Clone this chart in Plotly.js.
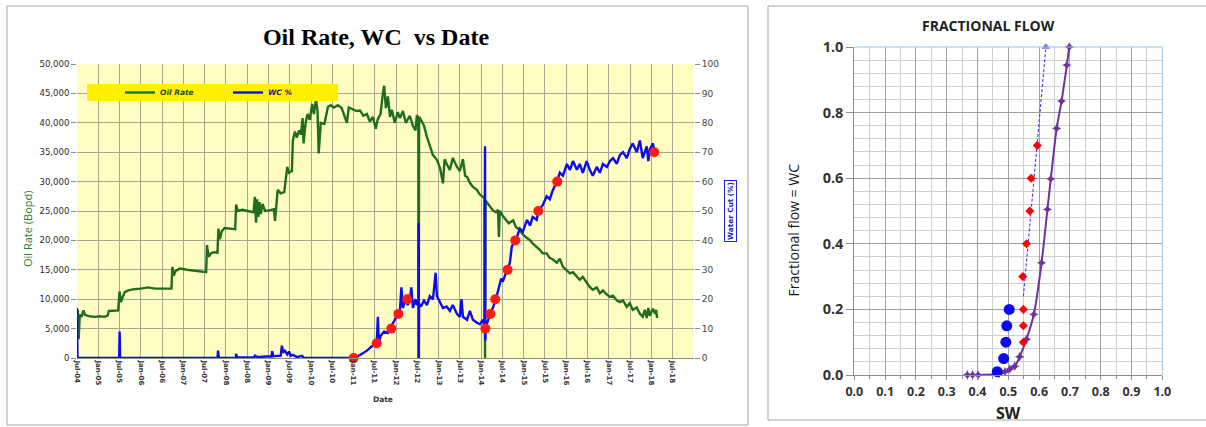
<!DOCTYPE html>
<html><head><meta charset="utf-8">
<script src="https://cdn.plot.ly/plotly-3.0.1.min.js"></script>
<style>html,body{margin:0;padding:0;background:#fff;}#chart{width:1206px;height:427px;}</style>
</head><body><div id="chart"></div>
<script>
// ---------- Left chart: Oil Rate, WC vs Date ----------
const oilDates = ['2004-07-01','2004-07-08','2004-07-15','2004-07-25','2004-08-10','2004-08-25','2004-09-10','2004-10-15','2004-12-01','2005-01-15','2005-02-20','2005-03-20','2005-04-01','2005-06-20','2005-07-01','2005-07-12','2005-07-25','2005-08-15','2005-09-15','2005-11-01','2006-01-01','2006-03-01','2006-05-01','2006-07-01','2006-09-20','2006-09-28','2006-10-10','2006-10-25','2006-12-01','2007-02-01','2007-04-01','2007-06-01','2007-07-15','2007-07-22','2007-08-05','2007-08-25','2007-09-20','2007-10-20','2007-10-28','2007-11-10','2007-11-25','2007-12-20','2008-01-20','2008-03-20','2008-03-28','2008-04-10','2008-05-20','2008-07-01','2008-08-25','2008-09-05','2008-09-15','2008-09-25','2008-10-05','2008-10-15','2008-10-25','2008-11-10','2008-12-01','2009-01-05','2009-02-15','2009-02-25','2009-03-20','2009-04-15','2009-05-15','2009-06-10','2009-06-25','2009-07-20','2009-07-28','2009-08-15','2009-09-01','2009-09-20','2009-10-05','2009-10-20','2009-10-28','2009-11-15','2009-12-01','2009-12-20','2010-01-10','2010-01-25','2010-02-12','2010-02-25','2010-03-07','2010-03-25','2010-04-25','2010-05-25','2010-06-18','2010-07-15','2010-08-18','2010-09-20','2010-11-04','2010-11-20','2010-12-20','2011-01-25','2011-02-25','2011-03-25','2011-04-25','2011-05-20','2011-06-15','2011-07-10','2011-07-25','2011-08-20','2011-09-09','2011-09-20','2011-10-05','2011-10-22','2011-11-09','2011-11-25','2011-12-20','2012-01-15','2012-02-03','2012-02-28','2012-03-24','2012-04-27','2012-05-24','2012-06-15','2012-06-27','2012-07-10','2012-07-13','2012-07-16','2012-08-01','2012-08-27','2012-09-21','2012-10-16','2012-11-12','2012-12-16','2013-01-12','2013-02-06','2013-02-20','2013-03-10','2013-04-06','2013-05-01','2013-06-06','2013-07-01','2013-07-27','2013-08-15','2013-09-01','2013-09-25','2013-10-21','2013-11-24','2013-12-19','2014-01-15','2014-01-28','2014-02-02','2014-02-06','2014-03-15','2014-04-10','2014-05-06','2014-05-25','2014-06-01','2014-06-09','2014-07-04','2014-08-01','2014-08-25','2014-10-01','2014-10-25','2014-11-28','2014-12-24','2015-01-28','2015-02-24','2015-03-18','2015-04-22','2015-05-18','2015-06-12','2015-07-16','2015-08-12','2015-09-06','2015-10-12','2015-11-06','2015-12-03','2016-01-06','2016-02-01','2016-02-27','2016-04-01','2016-04-25','2016-05-21','2016-06-24','2016-07-20','2016-08-15','2016-09-18','2016-10-15','2016-11-10','2016-12-14','2017-01-10','2017-02-05','2017-03-09','2017-04-04','2017-05-01','2017-06-03','2017-06-28','2017-07-24','2017-08-28','2017-09-23','2017-10-18','2017-11-05','2017-11-21','2017-12-05','2017-12-18','2018-01-13','2018-02-01','2018-02-10','2018-02-18'];
const oilRate = [3500,8200,3200,7400,7000,8100,7300,7100,7000,7100,7000,7200,8000,8100,11300,9500,10200,11200,11500,11700,11800,12000,11800,11800,11800,15500,14000,14800,15200,15000,14900,14800,14600,19200,17200,17800,18000,17900,22000,20200,21500,22100,22000,21900,26100,25000,25200,25000,24800,27400,23000,27000,24000,26500,24500,26200,25000,25100,25300,23300,28600,28000,28200,32500,31500,31800,37000,38500,37500,38700,38000,40800,36500,40000,41500,40500,43200,41500,44000,42000,34800,40000,39800,42700,43000,42600,43000,42500,40000,42600,42300,42000,42100,41200,41500,40200,41000,39000,40500,41500,45000,46300,42500,44500,41000,42200,40000,41800,40800,42000,40000,41200,39500,38700,41300,40800,0,41000,40500,39500,37600,36000,34500,33700,32300,29700,33800,33000,32000,34000,32500,31800,33800,31000,30800,29800,29100,28600,27800,27400,27200,0,26800,25800,25100,24800,25200,20600,25000,24200,23600,22900,23400,22300,21700,21000,20400,20000,19500,18900,18400,17800,17800,17000,16800,16200,16900,15500,14900,14400,14600,13800,13300,13800,12700,12100,11600,12000,11000,11500,10800,10400,10600,9800,9500,9800,8700,9300,8200,8600,7500,7000,8200,6800,8500,7200,8400,7500,8200,6800];

const wcDates = ['2004-07-01','2004-07-05','2005-06-28','2005-07-02','2005-07-06','2007-10-20','2007-10-25','2007-11-01','2008-03-25','2008-03-28','2008-04-05','2008-09-01','2008-09-05','2008-10-01','2008-12-01','2009-01-25','2009-02-01','2009-02-10','2009-04-15','2009-04-25','2009-05-05','2009-05-20','2009-06-10','2009-06-25','2009-07-10','2009-07-28','2009-09-01','2009-10-15','2009-11-01','2011-01-01','2011-02-25','2011-04-25','2011-06-06','2011-07-18','2011-07-28','2011-08-05','2011-08-20','2011-09-20','2011-10-22','2011-11-09','2011-11-25','2011-12-20','2012-01-15','2012-02-03','2012-02-15','2012-02-28','2012-03-24','2012-04-10','2012-04-27','2012-05-10','2012-05-24','2012-06-15','2012-06-27','2012-07-10','2012-07-12','2012-07-14','2012-07-16','2012-08-01','2012-08-27','2012-09-21','2012-10-16','2012-11-12','2012-12-05','2012-12-16','2013-01-12','2013-02-06','2013-03-10','2013-04-06','2013-05-01','2013-06-06','2013-07-01','2013-07-15','2013-07-27','2013-09-01','2013-09-25','2013-10-21','2013-11-24','2013-12-19','2014-01-15','2014-01-28','2014-02-02','2014-02-04','2014-02-08','2014-03-01','2014-03-20','2014-04-10','2014-05-06','2014-06-01','2014-06-20','2014-07-04','2014-08-01','2014-08-20','2014-09-05','2014-09-20','2014-10-20','2014-11-10','2014-11-28','2014-12-24','2015-01-28','2015-02-24','2015-03-18','2015-04-22','2015-05-05','2015-06-12','2015-07-16','2015-08-12','2015-09-06','2015-10-12','2015-11-06','2015-12-03','2016-01-06','2016-02-01','2016-02-27','2016-04-01','2016-04-25','2016-05-21','2016-06-24','2016-07-20','2016-08-15','2016-09-18','2016-10-15','2016-11-10','2016-12-14','2017-01-10','2017-02-05','2017-03-09','2017-04-04','2017-05-01','2017-06-03','2017-06-28','2017-07-24','2017-08-28','2017-09-23','2017-10-18','2017-11-21','2017-12-05','2017-12-18','2018-01-13','2018-01-25','2018-02-18'];
const wcPct = [17,0,0,9,0,0,2.5,0,0,1.4,0.2,0.2,0.8,0.3,0.5,0.5,2.3,0.6,0.8,4.2,1.8,2.5,1.2,2.2,0.8,1.1,0.3,0.7,0,0,1,2.5,4,4.4,14,5,7.5,9,8.5,10,11,13,15,16.5,24,17,20,18,19.5,24,17,20,18,19,46,0,18.5,17.5,19.5,18,21,20,29,21,19,17,17.5,16,18,15,14,20,14,13,16,13,12,11.5,13,10.5,72,6,10.5,13,15.6,17,20,24,27,26,29,30,33,38,40,42,44,43,47,45,48,47,50,52,55,54,57,60,63,62,66,64,67,64,66,63,67,64,62,65,63,66,65,67,68,66,69,70,68,71,73,70,74,68,72,67,71,73,70.7,71];

const matchDates = ['2011-01-01','2011-07-18','2011-11-20','2012-01-20','2012-04-05','2014-02-05','2014-03-20','2014-05-01','2014-08-15','2014-10-20','2015-05-05','2015-10-15','2018-01-25'];
const matchWC = [0,5,10,15,20,10,15,20,30,40,50,60,70];

const xTickDates = ['2004-07-01','2005-01-01','2005-07-01','2006-01-01','2006-07-01','2007-01-01','2007-07-01','2008-01-01','2008-07-01','2009-01-01','2009-07-01','2010-01-01','2010-07-01','2011-01-01','2011-07-01','2012-01-01','2012-07-01','2013-01-01','2013-07-01','2014-01-01','2014-07-01','2015-01-01','2015-07-01','2016-01-01','2016-07-01','2017-01-01','2017-07-01','2018-01-01','2018-07-01'];
const xTickLabels = ['Jul-04','Jan-05','Jul-05','Jan-06','Jul-06','Jan-07','Jul-07','Jan-08','Jul-08','Jan-09','Jul-09','Jan-10','Jul-10','Jan-11','Jul-11','Jan-12','Jul-12','Jan-13','Jul-13','Jan-14','Jul-14','Jan-15','Jul-15','Jan-16','Jul-16','Jan-17','Jul-17','Jan-18','Jul-18'];

// ---------- Right chart: Fractional flow ----------
const swCurve = [0.367,0.384,0.402,0.47,0.489,0.505,0.521,0.537,0.559,0.583,0.608,0.627,0.638,0.657,0.673,0.690,0.698];
const ffCurve = [0,0,0,0.004,0.01,0.018,0.027,0.056,0.109,0.185,0.342,0.505,0.598,0.752,0.835,0.945,1.0];
const swTrend = [0.549,0.622];
const ffTrend = [0.24,1.0];
const swRed = [0.549,0.549,0.549,0.547,0.559,0.570,0.574,0.594];
const ffRed = [0.1,0.15,0.2,0.3,0.4,0.5,0.6,0.7];
const swBlue = [0.464,0.485,0.492,0.495,0.503];
const ffBlue = [0.01,0.05,0.1,0.15,0.2];

const W = 1206, H = 427;
const px = x => x / W;
const py = y => 1 - y / H;

const traces = [
  {x: oilDates, y: oilRate, xaxis:'x', yaxis:'y', type:'scatter', mode:'lines',
   name:'<span style="color:#1E4E1E">Oil Rate</span>', line:{color:'#1F6E1F', width:2.4}},
  {x: wcDates, y: wcPct, xaxis:'x', yaxis:'y2', type:'scatter', mode:'lines',
   name:'<span style="color:#1A1A80">WC %</span>', line:{color:'#0B0BF2', width:2.4}},
  {x: matchDates, y: matchWC, xaxis:'x', yaxis:'y2', type:'scatter', mode:'markers', showlegend:false,
   marker:{color:'#FF1A1A', size:10}, cliponaxis:false},
  {x: swCurve, y: ffCurve, xaxis:'x2', yaxis:'y3', type:'scatter', mode:'lines+markers', showlegend:false,
   line:{color:'#7030A0', width:2, shape:'spline', smoothing:0.8},
   marker:{symbol:'star-diamond', size:7, color:'#7030A0'}, cliponaxis:false},
  {x: swTrend, y: ffTrend, xaxis:'x2', yaxis:'y3', type:'scatter', mode:'lines+markers', showlegend:false,
   line:{color:'#3A3AF5', width:1.1, dash:'3px,2px'},
   marker:{symbol:'triangle-up', size:[0,9], color:'#3A3AF5'}, cliponaxis:false},
  {x: swRed, y: ffRed, xaxis:'x2', yaxis:'y3', type:'scatter', mode:'markers', showlegend:false,
   marker:{symbol:'diamond', size:7, color:'#FF0000'}, cliponaxis:false},
  {x: swBlue, y: ffBlue, xaxis:'x2', yaxis:'y3', type:'scatter', mode:'markers', showlegend:false,
   marker:{symbol:'circle', size:11, color:'#0A0AF0'}, cliponaxis:false}
];

const gridLeft = '#A8A592';
const layout = {
  width: W, height: H,
  margin: {l:0, r:0, t:0, b:0},
  paper_bgcolor: '#FFFFFF',
  plot_bgcolor: 'rgba(0,0,0,0)',
  showlegend: true,
  legend: {orientation:'h', x: px(120), xanchor:'left', y: py(92.5), yanchor:'middle',
           bgcolor:'rgba(0,0,0,0)', borderwidth:0, itemwidth:30,
           entrywidth:63, entrywidthmode:'pixels',
           font:{family:'DejaVu Sans', size:7.5, weight:'bold', style:'italic', color:'#222'}},
  title: {text:'Oil Rate, WC  vs Date', x: px(376), xanchor:'center', xref:'paper',
          y: py(37), yanchor:'middle', yref:'container',
          font:{family:'Liberation Serif', size:24, weight:'bold', color:'#000'}},
  xaxis: {domain:[px(77), px(694)], anchor:'y', type:'date',
          range:['2004-07-01','2019-01-01'], tickmode:'array', tickvals:xTickDates, ticktext:xTickLabels,
          tickangle:90, tickfont:{family:'DejaVu Sans', size:7, weight:'bold', color:'#333'},
          showgrid:true, gridcolor:gridLeft, gridwidth:1, showline:true, linecolor:'#8C8C8C',
          ticks:'', zeroline:false, fixedrange:true},
  yaxis: {domain:[py(358), py(64)], anchor:'x', range:[0,50000], dtick:5000, tickformat:',d',
          showgrid:true, gridcolor:gridLeft, gridwidth:1, zeroline:false,
          ticks:'outside', ticklen:5, tickcolor:'#8C8C8C', showline:false,
          tickfont:{family:'DejaVu Sans', size:8.5, color:'#2A2A2A'}},
  yaxis2: {overlaying:'y', side:'right', anchor:'x', range:[0,100], dtick:10,
           showgrid:false, zeroline:false, ticks:'outside', ticklen:5, tickcolor:'#8C8C8C',
           tickfont:{family:'DejaVu Sans', size:9, color:'#444'}},
  xaxis2: {domain:[px(854.3), px(1162.3)], anchor:'y3', range:[0,1], dtick:0.1, tick0:0, tickformat:'.1f',
           showgrid:true, gridcolor:'#A0A0A0', gridwidth:1, zeroline:false,
           showline:true, linecolor:'#8C8C8C', ticks:'outside', ticklen:4, tickcolor:'#8C8C8C',
           ticklabelstandoff:1,
           minor:{dtick:0.05, showgrid:true, gridcolor:'#CFCFCF', ticks:'outside', ticklen:3, tickcolor:'#8C8C8C'},
           tickfont:{family:'Open Sans', size:12.5, weight:'bold', color:'#333'}},
  yaxis3: {domain:[py(375), py(47)], anchor:'x2', range:[0,1], dtick:0.2, tick0:0, tickformat:'.1f',
           showgrid:true, gridcolor:'#A0A0A0', gridwidth:1, zeroline:false,
           showline:true, linecolor:'#8C8C8C', ticks:'outside', ticklen:7, tickcolor:'#8C8C8C',
           minor:{dtick:0.04, showgrid:true, gridcolor:'#CFCFCF'},
           tickfont:{family:'Open Sans', size:14.5, weight:'bold', color:'#333'}},
  shapes: [
    {type:'rect', xref:'x domain', yref:'y domain', x0:0, x1:1, y0:0, y1:1,
     fillcolor:'#FFFDC2', line:{width:0}, layer:'below'},
    {type:'rect', xref:'paper', yref:'paper', x0:px(87), x1:px(338), y0:py(101), y1:py(84),
     fillcolor:'#FFF000', line:{width:0}, layer:'above'},
    {type:'rect', xref:'paper', yref:'paper', x0:px(7), x1:px(748), y0:py(425), y1:py(6),
     line:{color:'#A6A6A6', width:1}, fillcolor:'rgba(0,0,0,0)', layer:'above'},
    {type:'rect', xref:'paper', yref:'paper', x0:px(768), x1:px(1212), y0:py(420), y1:py(6),
     line:{color:'#A6A6A6', width:1}, fillcolor:'rgba(0,0,0,0)', layer:'above'},
    {type:'line', xref:'paper', yref:'paper', x0:px(854.3), x1:px(1162.3), y0:py(47), y1:py(47),
     line:{color:'#9DC3E6', width:1}, layer:'above'},
    {type:'line', xref:'paper', yref:'paper', x0:px(1162.3), x1:px(1162.3), y0:py(375), y1:py(47),
     line:{color:'#9DC3E6', width:1}, layer:'above'}
  ],
  annotations: [
    {text:'Oil Rate (Bopd)', xref:'paper', yref:'paper', x:px(27), y:py(229), textangle:-90,
     xanchor:'center', yanchor:'middle',
     showarrow:false, font:{family:'Open Sans', size:11, color:'#2E7D2E'}},
    {text:'Water Cut (%)', xref:'paper', yref:'paper', x:px(730), y:py(211), textangle:-90,
     xanchor:'center', yanchor:'middle',
     showarrow:false, bordercolor:'#2020E0', borderwidth:1, borderpad:1,
     font:{family:'DejaVu Sans', size:7.3, weight:'bold', color:'#2020D0'}},
    {text:'Date', xref:'paper', yref:'paper', x:px(383), y:py(399), xanchor:'center', yanchor:'middle',
     showarrow:false, font:{family:'DejaVu Sans', size:7.5, weight:'bold', color:'#333'}},
    {text:'FRACTIONAL FLOW', xref:'paper', yref:'paper', x:px(988), y:py(26), xanchor:'center', yanchor:'middle',
     showarrow:false, font:{family:'Open Sans', size:14, weight:'bold', color:'#222'}},
    {text:'Fractional flow = WC', xref:'paper', yref:'paper', x:px(792.5), y:py(230), textangle:-90,
     xanchor:'center', yanchor:'middle',
     showarrow:false, font:{family:'Open Sans', size:14, color:'#1A1A1A'}},
    {text:'SW', xref:'paper', yref:'paper', x:px(1008), y:py(413), xanchor:'center', yanchor:'middle',
     showarrow:false, font:{family:'Open Sans', size:16, weight:'bold', color:'#222'}}
  ]
};

Plotly.newPlot('chart', traces, layout, {staticPlot:true, displayModeBar:false});
</script>
</body></html>
